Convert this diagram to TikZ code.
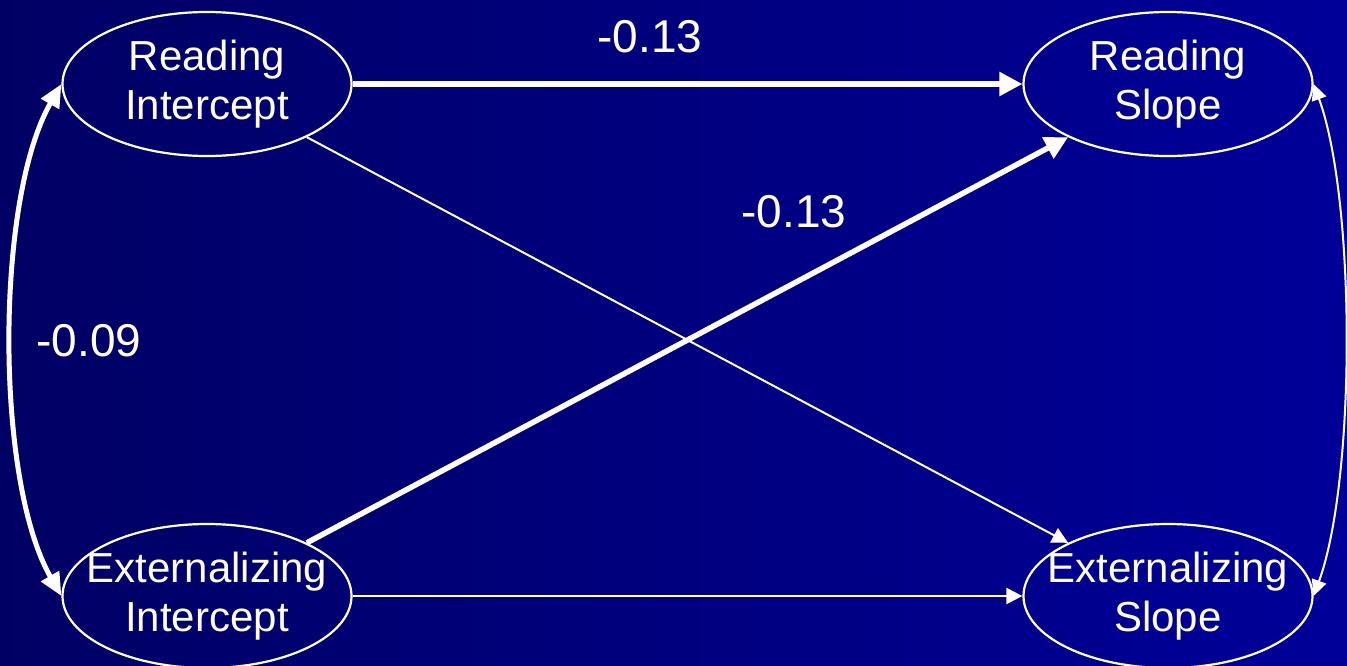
\documentclass[tikz,border=0pt]{standalone}
\usepackage{fontspec}
\setmainfont{Liberation Sans}
\usetikzlibrary{arrows.meta,shapes.geometric}
\definecolor{bgleft}{RGB}{0,0,100}
\definecolor{bgright}{RGB}{0,0,153}
\newcommand{\zline}[1]{\makebox[0pt][c]{#1}}
\begin{document}
\begin{tikzpicture}[x=1pt,y=-1pt,
  latent/.style={draw=white, line width=2.2pt, ellipse, minimum width=289pt, minimum height=144pt, inner sep=0pt, text=white, align=center, font=\fontsize{42}{49}\selectfont},
  coef/.style={text=white, anchor=base, font=\fontsize{46}{50}\selectfont, inner sep=0pt},
  thickarrow/.style={draw=white, line width=5.5pt, -{Triangle[length=23pt,width=23pt]}},
  thinarrow/.style={draw=white, line width=2pt, -{Triangle[length=16pt,width=16pt]}},
  thickcov/.style={draw=white, line width=5pt, {Triangle[length=23pt,width=20pt]}-{Triangle[length=23pt,width=20pt]}},
  thincov/.style={draw=white, line width=2pt, {Triangle[length=16pt,width=15pt]}-{Triangle[length=16pt,width=15pt]}}]
\useasboundingbox (0,0) rectangle (1347,665);
\fill[left color=bgleft, right color=bgright] (0,0) rectangle (1347,665);
\node[latent] (RI) at (207,84) {\zline{Reading}\\\zline{Intercept}};
\node[latent] (RS) at (1168,84) {\zline{Reading}\\\zline{Slope}};
\node[latent] (EI) at (207,596) {\zline{Externalizing}\\\zline{Intercept}};
\node[latent] (ES) at (1168,596) {\zline{Externalizing}\\\zline{Slope}};
\draw[thickarrow] (RI) -- (RS);
\draw[thickarrow] (EI) -- (RS);
\draw[thinarrow] (RI) -- (ES);
\draw[thinarrow] (EI) -- (ES);
\draw[thickcov] (RI.west) .. controls (-5,200) and (-5,480) .. (EI.west);
\draw[thincov] (RS.east) .. controls (1356,200) and (1356,480) .. (ES.east);
\node[coef] (c1) at (650,52) {-0.13};
\node[coef] (c2) at (794,227) {-0.13};
\node[coef] (c3) at (89,356) {-0.09};
\end{tikzpicture}
\end{document}
